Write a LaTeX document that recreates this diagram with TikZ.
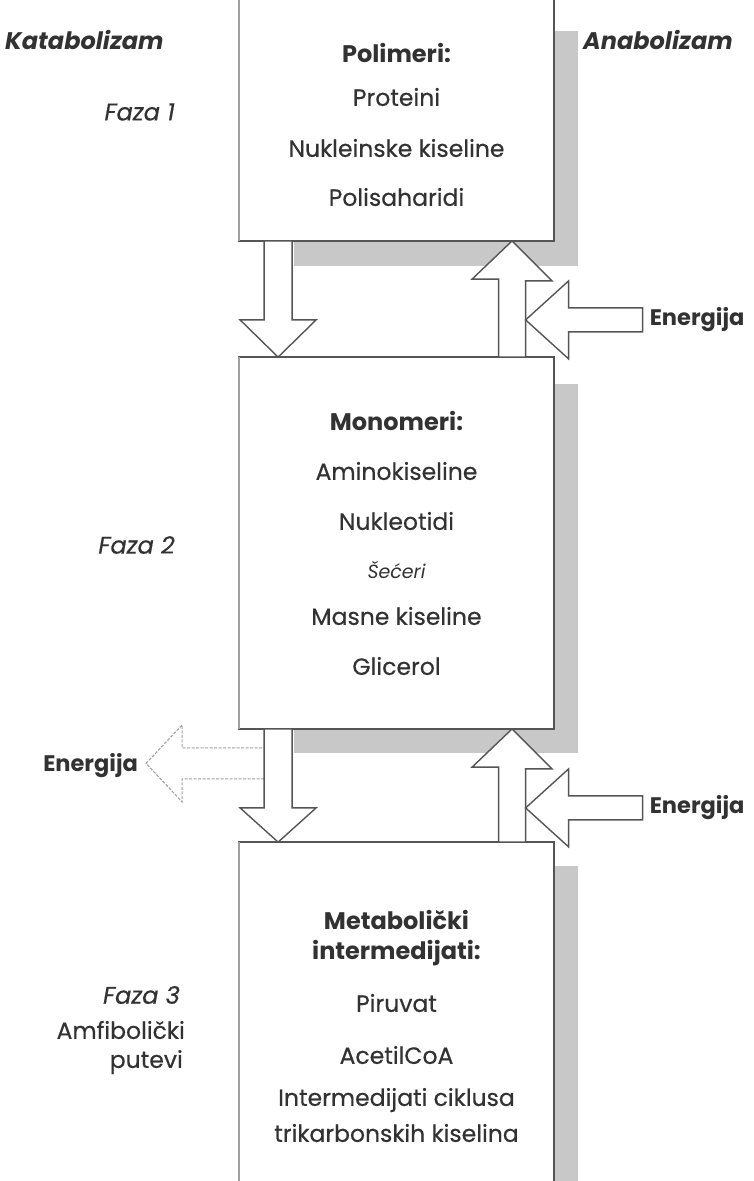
\documentclass[tikz,border=0pt]{standalone}
\usepackage{fontspec}
\setmainfont{Poppins}
\newfontfamily\medfont{Poppins}[FakeBold=0.4]
\usepackage{xcolor}
\usetikzlibrary{positioning, calc}
\definecolor{boxline}{RGB}{85,85,85}
\definecolor{edgegray}{RGB}{160,160,160}
\definecolor{shade}{RGB}{200,200,200}
\definecolor{ink}{RGB}{50,50,50}

\begin{document}
\begin{tikzpicture}[x=1pt, y=-1pt,
  stage/.style={draw=boxline, line width=1.8pt, fill=white, minimum width=313pt, inner sep=0pt},
  shadowbar/.style={fill=shade, draw=none},
  blockarrow/.style={draw=boxline, line width=1.4pt, fill=white, line join=miter},
  lossarrow/.style={draw=edgegray, line width=1.1pt, dash pattern=on 3pt off 1.5pt, fill=white},
  item/.style={font=\fontsize{23.5}{26}\selectfont\medfont, text=ink, inner sep=0pt},
  title/.style={font=\fontsize{24}{26}\selectfont\bfseries, text=ink, inner sep=0pt},
  side/.style={font=\fontsize{24}{26}\selectfont\medfont\itshape, text=ink, inner sep=0pt},
]
  \useasboundingbox (0,0) rectangle (753,1181);

  % Boxes
  \node[stage, minimum height=250pt] (poly) at (396.5,115) {};
  \node[stage, minimum height=370pt] (mono) at (396.5,543) {};
  \node[stage, minimum height=352pt] (meta) at (396.5,1019) {};

  % Shadows
  \fill[shadowbar] ($(poly.north east)+(0,42)$) rectangle ($(poly.south east)+(24,25)$);
  \fill[shadowbar] ($(poly.south west)+(55,0)$) rectangle ($(poly.south east)+(24,25)$);
  \fill[shadowbar] ($(mono.north east)+(0,27)$) rectangle ($(mono.south east)+(24,24)$);
  \fill[shadowbar] ($(mono.south west)+(55,0)$) rectangle ($(mono.south east)+(24,24)$);
  \fill[shadowbar] ($(meta.north east)+(0,24)$) rectangle ($(meta.south east)+(24,0)$);
  \draw[stage] (poly.north west) rectangle (poly.south east);
  \draw[stage] (mono.north west) rectangle (mono.south east);
  \draw[stage] (meta.north west) rectangle (meta.south east);
  \draw[edgegray, line width=2.5pt] (poly.north west) -- (poly.south west);
  \draw[edgegray, line width=2.5pt] (mono.north west) -- (mono.south west);
  \draw[edgegray, line width=2.5pt] (meta.north west) -- (meta.south west);

  % Polimeri
  \node[title] (polyT) at (396.5,53) {Polimeri:};
  \node[item] (prot) at (396.5,97) {Proteini};
  \node[item] (nukl) at (396.5,148) {Nukleinske kiseline};
  \node[item] (psah) at (396.5,197) {Polisaharidi};

  % Monomeri
  \node[title] (monoT) at (396.5,421) {Monomeri:};
  \node[item] (amino) at (396.5,471) {Aminokiseline};
  \node[item] (nuklt) at (396.5,521) {Nukleotidi};
  \node[item, font=\fontsize{19}{21}\selectfont\itshape] (secer) at (396.5,570) {Šećeri};
  \node[item] (masne) at (396.5,616) {Masne kiseline};
  \node[item] (glic) at (396.5,666) {Glicerol};

  % Metabolicki intermedijati
  \node[title] (metaT) at (396.5,920) {Metabolički};
  \node[title] (metaT2) at (396.5,953) {intermedijati:};
  \node[item] (piru) at (396.5,1003) {Piruvat};
  \node[item] (acoa) at (396.5,1055) {AcetilCoA};
  \node[item] (tca1) at (396.5,1100) {Intermedijati ciklusa};
  \node[item] (tca2) at (396.5,1133) {trikarbonskih kiselina};

  % Side labels
  \node[side, font=\fontsize{24}{26}\selectfont\bfseries\itshape, anchor=west] (kat) at (5,40) {Katabolizam};
  \node[side, font=\fontsize{24}{26}\selectfont\bfseries\itshape, anchor=west] (ana) at (583,40) {Anabolizam};
  \node[side, anchor=east] (faza1) at (175,112) {Faza 1};
  \node[side, anchor=east] (faza2) at (175,545) {Faza 2};
  \node[side, anchor=east] (faza3) at (180,995) {Faza 3};
  \node[item, anchor=east] (amfi) at (185,1030) {Amfibolički};
  \node[item, anchor=east] (put) at (183,1062) {putevi};

  % Arrows poly -> mono
  \coordinate (down1) at ($(poly.south west)+(39,0)$);
  \coordinate (up1) at ($(poly.south west)+(273,0)$);
  \draw[blockarrow] ($(down1)+(-14,0)$) -- ++(0,79) -- ++(-24,0) -- (down1 |- mono.north)
    -- ($(down1)+(38,79)$) -- ++(-24,0) -- ++(0,-79) -- cycle;
  \draw[blockarrow] (up1) -- ++(40,40) -- ++(-26.5,0) -- ($(up1 |- mono.north)+(13.5,0)$)
    -- ++(-27,0) -- ++(0,-78) -- ++(-26.5,0) -- cycle;
  \coordinate (in1) at ($(up1)+(13.5,79)$);
  \draw[blockarrow] (in1) -- ++(43,-39) -- ++(0,27) -- ++(74,0) -- ++(0,24)
    -- ++(-74,0) -- ++(0,27) -- cycle;
  \node[title, font=\fontsize{22.5}{24}\selectfont\bfseries, anchor=west] (en1) at ($(in1)+(124,0)$) {Energija};

  % Arrows mono -> meta
  \coordinate (down2) at ($(mono.south west)+(39,0)$);
  \coordinate (up2) at ($(mono.south west)+(273,0)$);
  \coordinate (out2) at ($(down2)+(-14,50)$);
  \draw[lossarrow] (out2) -- ++(-82,0) -- ++(0,23) -- ++(-36,-38.5) -- ++(36,-38.5)
    -- ++(0,23) -- ++(82,0);
  \node[title, font=\fontsize{22.5}{24}\selectfont\bfseries, anchor=east] (en2) at ($(out2)+(-126,-13.5)$) {Energija};
  \draw[blockarrow] ($(down2)+(-14,0)$) -- ++(0,79) -- ++(-24,0) -- (down2 |- meta.north)
    -- ($(down2)+(38,79)$) -- ++(-24,0) -- ++(0,-79) -- cycle;
  \draw[blockarrow] (up2) -- ++(40,40) -- ++(-26.5,0) -- ($(up2 |- meta.north)+(13.5,0)$)
    -- ++(-27,0) -- ++(0,-75) -- ++(-26.5,0) -- cycle;
  \coordinate (in2) at ($(up2)+(13.5,79)$);
  \draw[blockarrow] (in2) -- ++(43,-39) -- ++(0,27) -- ++(74,0) -- ++(0,24)
    -- ++(-74,0) -- ++(0,27) -- cycle;
  \node[title, font=\fontsize{22.5}{24}\selectfont\bfseries, anchor=west] (en3) at ($(in2)+(124,0)$) {Energija};
\end{tikzpicture}
\end{document}
